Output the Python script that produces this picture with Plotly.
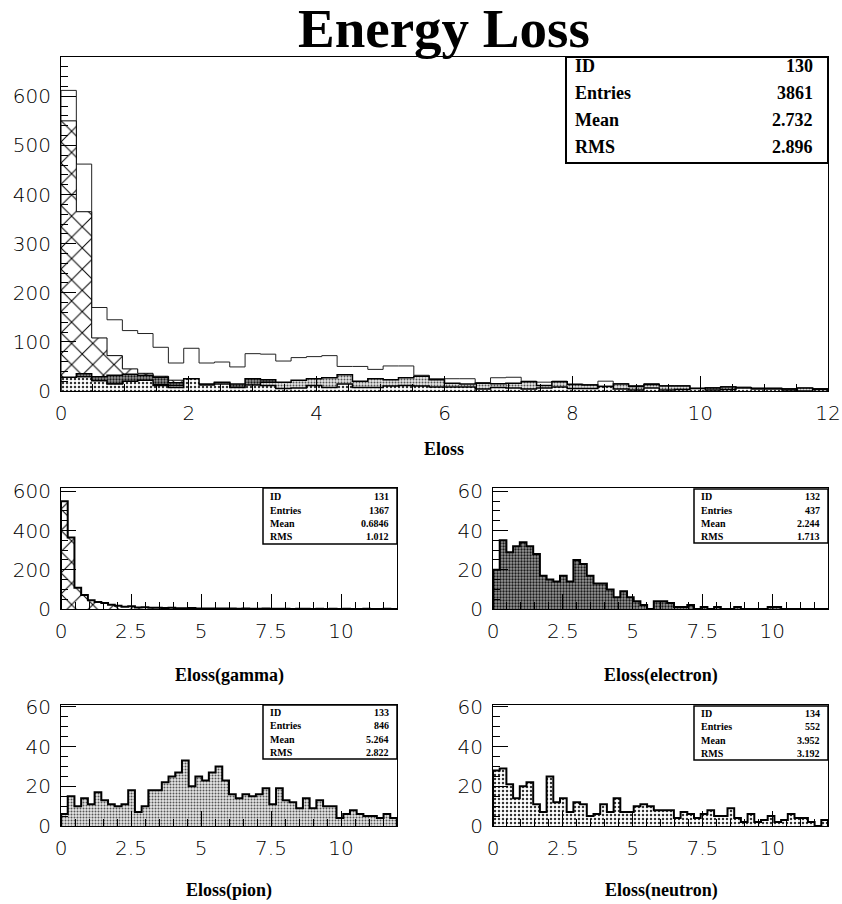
import numpy as np
import plotly.graph_objects as go

# ---- histogram binning: 50 bins over 0..12 ----
N_BINS = 50
X_LO, X_HI = 0.0, 12.0

# ---- bin contents ----
total = [612, 462, 170, 145, 123, 117, 89, 57, 87, 57,
         59, 49, 76, 75, 61, 68, 70, 72, 50, 50,
         44, 51, 51, 32, 25, 25, 25, 17, 27, 28,
         20, 18, 20, 14, 13, 20, 15, 11, 15, 11,
         11, 6, 7, 9, 8, 6, 6, 5, 6, 5]
gamma = [550, 365, 108, 72, 45, 36, 30, 22, 17, 12,
         14, 8, 9, 6, 7, 5, 6, 4, 4, 5,
         3, 3, 2, 3, 2, 2, 1, 2, 1, 1,
         2, 1, 1, 1, 0, 1, 1, 0, 1, 0,
         1, 0, 1, 0, 0, 1, 0, 0, 1, 0]
electron = [20, 35, 29, 32, 34, 32, 28, 17, 15, 14,
            17, 14, 25, 23, 17, 13, 13, 10, 6, 9,
            6, 4, 2, 0, 4, 4, 3, 1, 1, 2,
            0, 1, 0, 1, 0, 0, 1, 0, 0, 0,
            0, 1, 1, 0, 0, 0, 0, 0, 0, 0]
pion = [6, 15, 10, 14, 11, 17, 13, 11, 10, 11,
        18, 7, 10, 18, 18, 22, 25, 27, 33, 20,
        25, 23, 27, 30, 23, 16, 14, 16, 15, 16,
        19, 11, 19, 13, 12, 9, 14, 9, 13, 10,
        10, 4, 6, 8, 6, 5, 5, 4, 6, 4]
neutron = [28, 29, 21, 14, 20, 22, 11, 7, 25, 12,
           14, 7, 12, 11, 5, 6, 11, 7, 14, 7,
           7, 10, 11, 10, 8, 8, 8, 4, 7, 6,
           4, 6, 8, 5, 5, 9, 4, 2, 6, 2,
           3, 5, 2, 3, 6, 4, 4, 2, 0, 3]

# ---- statistics boxes ----
stat_names = ["ID", "Entries", "Mean", "RMS"]
stats_total = ["130", "3861", "2.732", "2.896"]
stats_gamma = ["131", "1367", "0.6846", "1.012"]
stats_electron = ["132", "437", "2.244", "1.713"]
stats_pion = ["133", "846", "5.264", "2.822"]
stats_neutron = ["134", "552", "3.952", "3.192"]

TITLE = "Energy Loss"
X_TITLES = ["Eloss", "Eloss(gamma)", "Eloss(electron)", "Eloss(pion)", "Eloss(neutron)"]

W, H = 842, 904
edges = np.linspace(X_LO, X_HI, N_BINS + 1)


def px_x(p):
    return p / W


def px_y(p):
    return 1 - p / H


def step_xy(vals):
    xs = [edges[0]] + list(edges[:-1]) + [edges[-1]]
    ys = [0] + list(vals) + [0]
    return xs, ys


# fill styles
PAT = {
    "gamma": dict(shape="x", fgcolor="black", bgcolor="white", size=15, solidity=0.13, fillmode="replace"),
    "electron": dict(shape=".", fgcolor="#1a1a1a", bgcolor="#9a9a9a", size=3, solidity=0.45, fillmode="replace"),
    "pion": dict(shape=".", fgcolor="#555555", bgcolor="#e6e6e6", size=3, solidity=0.35, fillmode="replace"),
    "neutron": dict(shape=".", fgcolor="#333333", bgcolor="white", size=4, solidity=0.3, fillmode="replace"),
}

fig = go.Figure()


def add_hist(vals, xa, ya, pat=None, lw=1.0, lc="black"):
    xs, ys = step_xy(vals)
    kw = dict(x=xs, y=ys, mode="lines", line=dict(shape="hv", width=lw, color=lc),
              xaxis=xa, yaxis=ya, showlegend=False, hoverinfo="skip")
    if pat is not None:
        kw.update(fill="tozeroy", fillcolor=pat["bgcolor"], fillpattern=pat)
    fig.add_trace(go.Scatter(**kw))


# main panel: total outline with overlaid components
add_hist(total, "x", "y", None, lw=1.0, lc="#222")
add_hist(gamma, "x", "y", PAT["gamma"], lw=1.0)
add_hist(electron, "x", "y", PAT["electron"], lw=1.5)
add_hist(pion, "x", "y", PAT["pion"], lw=1.5)
add_hist(neutron, "x", "y", PAT["neutron"], lw=1.5)

# small panels
add_hist(gamma, "x2", "y2", PAT["gamma"], lw=2)
add_hist(electron, "x3", "y3", PAT["electron"], lw=2)
add_hist(pion, "x4", "y4", PAT["pion"], lw=2)
add_hist(neutron, "x5", "y5", PAT["neutron"], lw=2)

tick_font = dict(family="DejaVu Sans ExtraLight, DejaVu Sans", size=20, color="black", weight=200)


def xaxis(dom, anchor, dtick, minor):
    return dict(domain=[px_x(dom[0]), px_x(dom[1])], anchor=anchor, range=[X_LO, X_HI],
                tick0=0, dtick=dtick, ticks="inside", ticklen=15, tickwidth=1, tickcolor="black",
                minor=dict(dtick=minor, tick0=0, ticks="inside", ticklen=7, tickwidth=1, tickcolor="black"),
                showline=True, mirror=True, linecolor="black", linewidth=1,
                showgrid=False, zeroline=False, tickfont=tick_font, ticklabelstandoff=4,
                automargin=False)


def yaxis(dom, anchor, top, dtick, minor):
    return dict(domain=[px_y(dom[1]), px_y(dom[0])], anchor=anchor, range=[0, top],
                tick0=0, dtick=dtick, ticks="inside", ticklen=15, tickwidth=1, tickcolor="black",
                minor=dict(dtick=minor, tick0=0, ticks="inside", ticklen=7, tickwidth=1, tickcolor="black"),
                showline=True, mirror=True, linecolor="black", linewidth=1,
                showgrid=False, zeroline=False, tickfont=tick_font, ticklabelstandoff=5,
                automargin=False)


# panel frames in pixels: (left, right), (top, bottom)
P_MAIN = ((61, 828), (57, 391))
P_GAM = ((61, 397), (488, 609))
P_ELE = ((493, 828), (488, 609))
P_PIO = ((61, 397), (705, 826))
P_NEU = ((493, 828), (705, 826))

fig.update_layout(
    width=W, height=H, autosize=False,
    margin=dict(l=0, r=0, t=0, b=0, pad=0, autoexpand=False),
    paper_bgcolor="white", plot_bgcolor="white",
    xaxis=xaxis(P_MAIN[0], "y", 2, 0.5),
    yaxis=yaxis(P_MAIN[1], "x", 680, 100, 20),
    xaxis2=xaxis(P_GAM[0], "y2", 2.5, 0.5),
    yaxis2=yaxis(P_GAM[1], "x2", 617, 200, 50),
    xaxis3=xaxis(P_ELE[0], "y3", 2.5, 0.5),
    yaxis3=yaxis(P_ELE[1], "x3", 61.7, 20, 5),
    xaxis4=xaxis(P_PIO[0], "y4", 2.5, 0.5),
    yaxis4=yaxis(P_PIO[1], "x4", 61, 20, 5),
    xaxis5=xaxis(P_NEU[0], "y5", 2.5, 0.5),
    yaxis5=yaxis(P_NEU[1], "x5", 61, 20, 5),
)

serif_b = "Liberation Serif"
annotations = []
shapes = []

# title
annotations.append(dict(text=TITLE, x=px_x(444), y=px_y(28), xref="paper", yref="paper",
                        xanchor="center", yanchor="middle", showarrow=False,
                        font=dict(family=serif_b, size=55, color="black", weight="bold")))

# axis titles
for txt, cx, cy in [(X_TITLES[0], 444, 449), (X_TITLES[1], 229, 675), (X_TITLES[2], 661, 675),
                    (X_TITLES[3], 229, 890), (X_TITLES[4], 661, 890)]:
    annotations.append(dict(text=txt, x=px_x(cx), y=px_y(cy), xref="paper", yref="paper",
                            xanchor="center", yanchor="middle", showarrow=False,
                            font=dict(family=serif_b, size=18, color="black", weight="bold")))


def stat_box(values, box, text_lr, row_ys, fsize, lw):
    (l, r), (t, b) = box
    shapes.append(dict(type="rect", xref="paper", yref="paper",
                       x0=px_x(l), x1=px_x(r), y0=px_y(b), y1=px_y(t),
                       line=dict(color="black", width=lw), fillcolor="white", layer="above"))
    for name, val, ry in zip(stat_names, values, row_ys):
        annotations.append(dict(text=name, x=px_x(text_lr[0]), y=px_y(ry), xref="paper", yref="paper",
                                xanchor="left", yanchor="middle", showarrow=False,
                                font=dict(family=serif_b, size=fsize, color="black", weight="bold")))
        annotations.append(dict(text=val, x=px_x(text_lr[1]), y=px_y(ry), xref="paper", yref="paper",
                                xanchor="right", yanchor="middle", showarrow=False,
                                font=dict(family=serif_b, size=fsize, color="black", weight="bold")))


stat_box(stats_total, ((566, 828), (57, 163)), (573, 815), [66, 93, 120, 147], 18, 2)
stat_box(stats_gamma, ((263, 397), (488, 544)), (268, 391), [496.5, 510, 523.3, 536.7], 10, 1.5)
stat_box(stats_electron, ((694, 828), (489, 543)), (699, 822), [496.5, 510, 523.3, 536.7], 10, 1.5)
stat_box(stats_pion, ((263, 397), (705, 759)), (268, 391), [712.7, 725.7, 739.3, 752.7], 10, 1.5)
stat_box(stats_neutron, ((694, 828), (706, 760)), (699, 822), [713.5, 726.5, 740, 753.3], 10, 1.5)

fig.update_layout(annotations=annotations, shapes=shapes)

fig.write_html("out.html")
